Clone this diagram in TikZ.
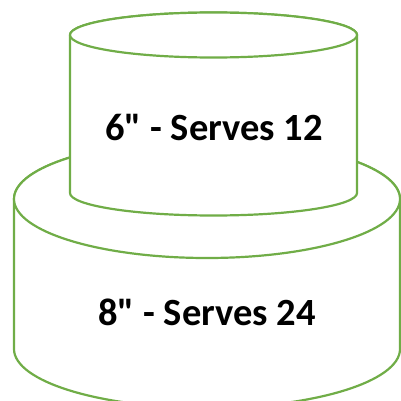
\documentclass[tikz,border=0pt]{standalone}
\usepackage{fontspec}
\setmainfont{Carlito}[Ligatures=TeXReset]
\usepackage{tikz}
\definecolor{tiergreen}{HTML}{70AD47}
\tikzset{tier/.style={draw=tiergreen,line width=2.2pt,fill=white},
  lbl/.style={font=\bfseries\fontsize{38.5}{44}\selectfont,inner sep=0pt,anchor=base}}
% centre x, top y, bottom y, x radius, y radius
\newcommand{\tier}[5]{
  \draw[tier] (#1-#4,#2) -- (#1-#4,#3)
    arc[start angle=180,end angle=360,x radius=#4,y radius=#5] -- (#1+#4,#2)
    arc[start angle=0,end angle=180,x radius=#4,y radius=#5] -- cycle;
  \draw[tier] (#1,#2) ellipse[x radius=#4,y radius=#5];}

\begin{document}
\begin{tikzpicture}[x=1pt,y=1pt]
    \useasboundingbox (0,0) rectangle (401,400);

    \tier{207}{201}{51}{193}{59}
    \node[lbl] (low) at (207,75) {8" - Serves 24};

    \tier{213.5}{365}{207}{143.5}{22.5}
    \node[lbl] (up) at (214,260) {6" - Serves 12};
\end{tikzpicture}
\end{document}
